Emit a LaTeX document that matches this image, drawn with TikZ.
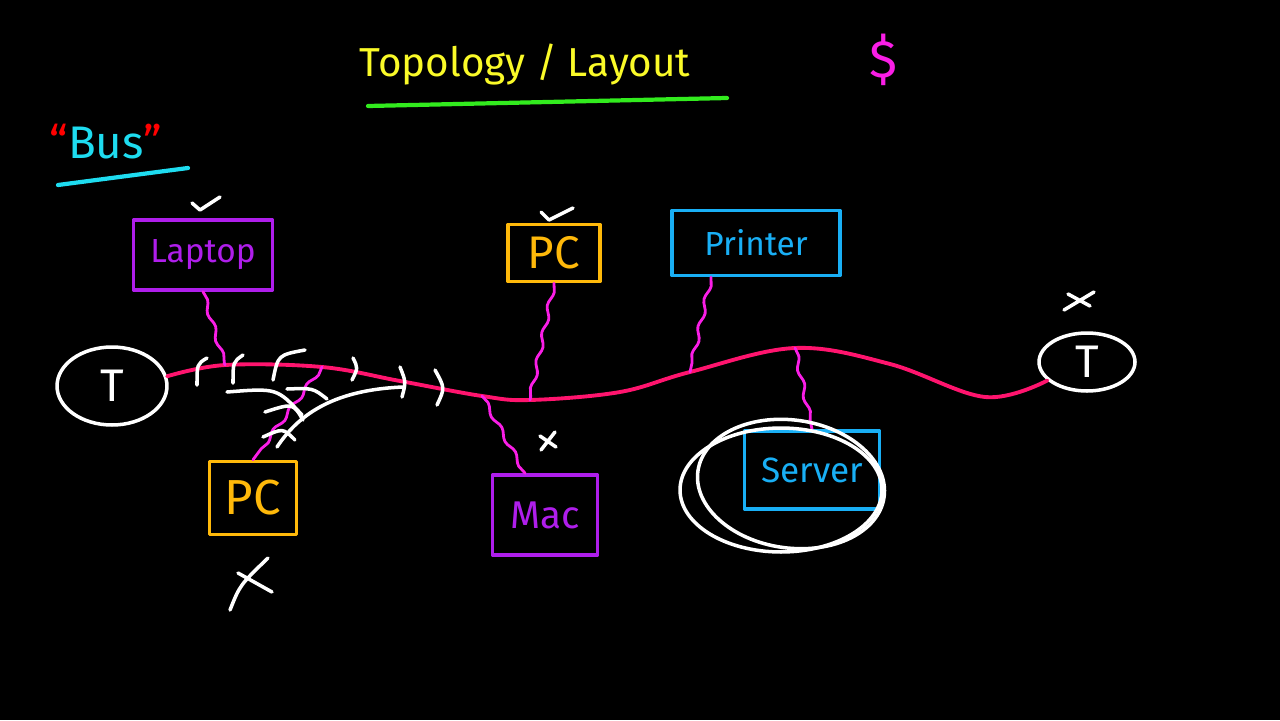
\documentclass[tikz,border=0pt]{standalone}
\usepackage{fontspec}
\setmainfont{Fira Sans}
\usetikzlibrary{shapes.geometric, decorations.pathmorphing}
\definecolor{buspink}{RGB}{255,20,110}
\definecolor{cablemag}{RGB}{250,30,230}
\definecolor{devpurple}{RGB}{175,30,235}
\definecolor{pcorange}{RGB}{255,185,10}
\definecolor{devcyan}{RGB}{25,175,245}
\definecolor{titleyellow}{RGB}{250,250,40}
\definecolor{linegreen}{RGB}{50,235,30}
\definecolor{buscyan}{RGB}{30,220,240}

\begin{document}
\begin{tikzpicture}[x=0.02cm, y=-0.02cm, line cap=round, line join=round,
	box/.style={draw, line width=2pt, inner sep=0pt, font=\fontsize{19}{21}\selectfont},
	term/.style={draw, white, ellipse, line width=2pt, inner sep=0pt, font=\fontsize{26}{28}\selectfont},
	cable/.style={cablemag, line width=1.6pt, decorate, decoration={snake, amplitude=1.2pt, segment length=16pt}},
	chalk/.style={white, line width=2pt}]
	\fill [black] (0,0) rectangle (1280,720);
	% heading
	\node [titleyellow, font=\fontsize{23}{25}\selectfont] (title) at (525,64) {Topology / Layout};
	\draw [linegreen, line width=2.4pt] (368,106) -- (727,98);
	\node [cablemag, font=\fontsize{30}{32}\selectfont] (cash) at (883,60) {\$};
	\node [buscyan, font=\fontsize{26}{28}\selectfont] (bustitle) at (106,142) {\textcolor{red}{``}Bus\textcolor{red}{''}};
	\draw [buscyan, line width=2.4pt] (58,185) -- (188,168);
	% terminators
	\node [term, minimum width=2.2cm, minimum height=1.56cm] (tl) at (112,386) {T};
	\node [term, minimum width=1.92cm, minimum height=1.16cm] (tr) at (1087,362) {T};
	% devices
	\node [box, devpurple, minimum width=2.78cm, minimum height=1.4cm] (laptop) at (203,255) {Laptop};
	\node [box, pcorange, minimum width=1.84cm, minimum height=1.14cm, font=\fontsize{26}{28}\selectfont] (pctop) at (554,253) {PC};
	\node [box, devcyan, minimum width=3.36cm, minimum height=1.3cm] (printer) at (756,243) {Printer};
	\node [box, pcorange, minimum width=1.74cm, minimum height=1.46cm, font=\fontsize{28}{30}\selectfont] (pcbot) at (253,498) {PC};
	\node [box, devpurple, minimum width=2.1cm, minimum height=1.6cm, font=\fontsize{22}{24}\selectfont] (mac) at (545,515) {Mac};
	\node [box, devcyan, minimum width=2.7cm, minimum height=1.56cm, font=\fontsize{20}{22}\selectfont] (server) at (812,470) {Server};
	% the bus
	\coordinate (bLaptop) at (225,365);
	\coordinate (bPCbot) at (322,367);
	\coordinate (bMac) at (482,396);
	\coordinate (bPC) at (530,400);
	\coordinate (bPrinter) at (690,372);
	\coordinate (bServer) at (795,348);
	\draw [buspink, line width=2.2pt] plot [smooth, tension=0.6] coordinates {(tl.10) (bLaptop) (bPCbot) (400,381) (bMac) (bPC) (620,392) (bPrinter) (bServer) (890,364) (985,397) (tr.205)};
	\draw [cable] (laptop.south) -- (bLaptop);
	\draw [cable] (pctop.south) -- (bPC);
	\draw [cable] ([xshift=-0.9cm]printer.south) -- (bPrinter);
	\draw [cable] (bServer) -- (server.north);
	\draw [cable] (bMac) -- ([xshift=-0.4cm]mac.north);
	\draw [cable] (bPCbot) -- (pcbot.north);
	% ticks and crosses
	\draw [chalk] (192,203) -- (200,210) -- (220,197);
	\draw [chalk] (541,212) -- (549,220) -- (573,208);
	\draw [chalk] (1064,310) -- (1094,292) (1068,294) -- (1090,306);
	\draw [chalk] (541,450) -- (555,432) (540,436) -- (556,447);
	\draw [chalk] (230,610) .. controls (240,585) .. (268,558) (238,573) -- (272,592);
	% signal on the wire
	\draw [chalk] (207,358) .. controls (197,364) .. (197,385);
	\draw [chalk] (243,355) .. controls (233,362) .. (233,383);
	\draw [chalk] (305,350) .. controls (278,355) .. (273,380);
	\draw [chalk] (353,358) .. controls (358,368) .. (352,380);
	\draw [chalk] (400,367) .. controls (406,382) .. (402,397);
	\draw [chalk] (435,370) .. controls (445,388) .. (437,405);
	\draw [chalk] (227,392) .. controls (277,388) .. (302,415);
	\draw [chalk] (287,389) .. controls (313,388) .. (327,399);
	\draw [chalk] (265,412) .. controls (293,403) .. (303,420);
	\draw [chalk] (263,437) .. controls (283,428) .. (295,440);
	\draw [chalk] (277,447) .. controls (297,417) and (330,390) .. (403,387);
	% server ringed
	\draw [chalk] (781,490) ellipse [x radius=2.02cm, y radius=1.24cm];
	\draw [chalk, rotate around={-8:(791,484)}] (791,484) ellipse [x radius=1.88cm, y radius=1.28cm];
\end{tikzpicture}
\end{document}
